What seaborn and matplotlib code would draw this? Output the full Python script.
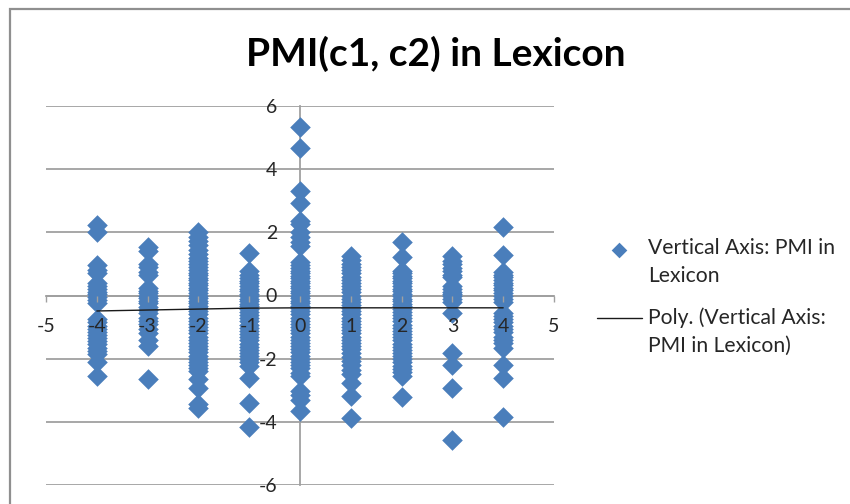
import matplotlib
matplotlib.use("Agg")
import matplotlib.pyplot as plt
from matplotlib.patches import Rectangle
import pandas as pd
import seaborn as sns

# PMI values grouped by horizontal position
pmi_m4 = [2.22, 2.0, 0.98, 0.8, 0.7, 0.4, 0.3, 0.2, 0.12, 0.05, -0.05, -0.15, -0.25,
          -0.75, -0.85, -0.95, -1.05, -1.15, -1.25, -1.35, -1.45, -1.55, -1.65,
          -1.75, -1.85, -2.1, -2.55]
pmi_m3 = [1.55, 1.4, 1.0, 0.9, 0.75, 0.65, 0.25, 0.15, 0.07, 0.0, -0.08, -0.16, -0.25,
          -0.35, -0.45, -0.55, -0.7, -0.8, -0.9, -1.05, -1.2, -1.4, -1.6, -2.65]
pmi_m2 = [2.0, 1.85, 1.72, 1.6, 1.45, 1.3, 1.2, 1.1, 1.0, 0.9, 0.8, 0.72, 0.64, 0.56,
          0.48, 0.4, 0.32, 0.24, 0.16, 0.08, 0.0, -0.08, -0.16, -0.24, -0.32, -0.4,
          -0.5, -0.6, -0.7, -0.8, -0.9, -1.0, -1.1, -1.2, -1.3, -1.4, -1.5, -1.6,
          -1.7, -1.8, -1.9, -2.0, -2.1, -2.2, -2.3, -2.4, -2.65, -2.92, -3.44, -3.56]
pmi_m1 = [1.33, 0.77, 0.65, 0.55, 0.46, 0.38, 0.3, 0.22, 0.14, 0.06, -0.02, -0.1,
          -0.18, -0.26, -0.34, -0.42, -0.52, -0.62, -0.72, -0.82, -0.92, -1.02, -1.12,
          -1.22, -1.32, -1.42, -1.52, -1.62, -1.72, -1.82, -1.92, -2.02, -2.12, -2.22,
          -2.6, -3.41, -4.15]
pmi_0 = [5.33, 4.68, 3.32, 2.93, 2.37, 2.25, 2.0, 1.85, 1.7, 1.58, 1.05, 0.95, 0.87,
         0.79, 0.71, 0.63, 0.55, 0.47, 0.39, 0.31, 0.23, 0.15, 0.07, 0.0, -0.08, -0.16,
         -0.24, -0.32, -0.4, -0.5, -0.6, -0.7, -0.8, -0.9, -1.0, -1.1, -1.2, -1.3,
         -1.4, -1.5, -1.6, -1.7, -1.8, -1.9, -2.0, -2.1, -2.2, -2.3, -2.44, -2.55,
         -3.03, -3.15, -3.3, -3.66]
pmi_1 = [1.25, 1.12, 1.0, 0.9, 0.8, 0.7, 0.6, 0.5, 0.4, 0.3, 0.2, 0.1, 0.0, -0.1, -0.2,
         -0.3, -0.4, -0.5, -0.6, -0.7, -0.8, -0.9, -1.0, -1.1, -1.2, -1.3, -1.4, -1.5,
         -1.6, -1.7, -1.82, -1.95, -2.08, -2.2, -2.35, -2.5, -2.76, -3.19, -3.87]
pmi_2 = [1.68, 1.23, 0.78, 0.7, 0.62, 0.54, 0.46, 0.38, 0.3, 0.22, 0.14, 0.06, -0.02,
         -0.1, -0.18, -0.26, -0.34, -0.42, -0.52, -0.62, -0.72, -0.82, -0.92, -1.02,
         -1.12, -1.22, -1.32, -1.42, -1.52, -1.62, -1.72, -1.82, -1.92, -2.02, -2.12,
         -2.22, -2.32, -2.42, -2.55, -3.2]
pmi_3 = [1.26, 1.1, 1.0, 0.88, 0.78, 0.65, 0.57, 0.3, 0.2, 0.12, 0.05, -0.03, -0.12,
         -0.22, -0.56, -1.81, -2.2, -2.92, -4.56]
pmi_4 = [2.16, 1.29, 0.73, 0.65, 0.57, 0.49, 0.41, 0.33, 0.25, 0.17, 0.09, 0.0, -0.1,
         -0.22, -0.55, -0.65, -0.75, -0.85, -0.95, -1.05, -1.17, -1.3, -1.4, -1.5,
         -1.65, -2.2, -2.62, -3.84]

columns = [-4, -3, -2, -1, 0, 1, 2, 3, 4]
column_values = [pmi_m4, pmi_m3, pmi_m2, pmi_m1, pmi_0, pmi_1, pmi_2, pmi_3, pmi_4]

# Polynomial trendline sampled at each column
trend_x = [-4, -3, -2, -1, 0, 1, 2, 3, 4]
trend_y = [-0.49, -0.46, -0.43, -0.40, -0.39, -0.39, -0.39, -0.39, -0.39]

x_ticks = [-5, -4, -3, -2, -1, 0, 1, 2, 3, 4, 5]
y_ticks = [-6, -4, -2, 0, 2, 4, 6]

title = "PMI(c1, c2) in Lexicon"
points_label = "Vertical Axis: PMI in\nLexicon"
trend_label = "Poly. (Vertical Axis:\nPMI in Lexicon)"

points = pd.DataFrame(
    [(c, v) for c, vals in zip(columns, column_values) for v in vals],
    columns=["x", "pmi"],
)
trend = pd.DataFrame({"x": trend_x, "pmi": trend_y})

sns.set_theme(style="white")
plt.rcParams["font.family"] = ["Lato", "DejaVu Sans"]
plt.rcParams["axes.unicode_minus"] = False

W, H = 850, 504
GRID = "#a0a0a0"
TEXT = "#262626"
fig = plt.figure(figsize=(W / 100, H / 100), dpi=100, facecolor="white")
ax = fig.add_axes([46 / W, 1 - 485 / H, 508 / W, 379 / H], facecolor="none")

# Chart frame, open past the right and lower edges of the figure
fig.add_artist(Rectangle((10 / W, -0.1), 1.1, 1.1 - 9 / H,
                         transform=fig.transFigure, fill=False,
                         edgecolor="#8f8f8f", linewidth=1.6))

sns.scatterplot(data=points, x="x", y="pmi", marker="D", s=110, color="#4a7ebb",
                linewidth=0, alpha=1, ax=ax, label=points_label, zorder=1)
sns.lineplot(data=trend, x="x", y="pmi", color="#1a1a1a", linewidth=1.0,
             errorbar=None, ax=ax, label=trend_label, zorder=3)

ax.set_xlim(-5, 5)
ax.set_ylim(-6, 6)
ax.set_xticks(x_ticks)
ax.set_yticks(y_ticks)
ax.set_xlabel("")
ax.set_ylabel("")

# Gridlines sit under the markers, tick labels above them
for value in y_ticks:
    ax.axhline(value, color=GRID, linewidth=1.3, zorder=0.5)
ax.grid(False)
ax.set_axisbelow(False)

for side in ("top", "right"):
    ax.spines[side].set_visible(False)
for side in ("left", "bottom"):
    ax.spines[side].set_position("zero")
    ax.spines[side].set_color(GRID)
    ax.spines[side].set_linewidth(1.3)
    ax.spines[side].set_zorder(0.6)

ax.tick_params(axis="x", length=4.2, width=1.0, color=GRID, pad=12, labelsize=14,
               labelcolor=TEXT, bottom=True)
ax.tick_params(axis="y", length=0, pad=16.5, labelsize=14, labelcolor=TEXT, left=True)

fig.text(436 / W, 1 - 54 / H, title, ha="center", va="center", fontsize=28,
         fontweight="bold", color="black")

legend = ax.legend(loc="upper left", bbox_to_anchor=(597 / W, 1 - 238 / H),
                   bbox_transform=fig.transFigure, frameon=False, fontsize=15.2,
                   handlelength=2.13, handletextpad=0.28, labelspacing=1.0,
                   borderpad=0, borderaxespad=0, labelcolor=TEXT, markerscale=0.76)
for text in legend.get_texts():
    text.set_linespacing(1.49)

# Legend keys line up with the first line of their two-line labels
marker_key, line_key = legend.legend_handles
marker_key.set_offsets(marker_key.get_offsets() + [0, 10])
line_key.set_ydata([y + 10 for y in line_key.get_ydata()])

fig.savefig("out.png", dpi=100, facecolor="white")
